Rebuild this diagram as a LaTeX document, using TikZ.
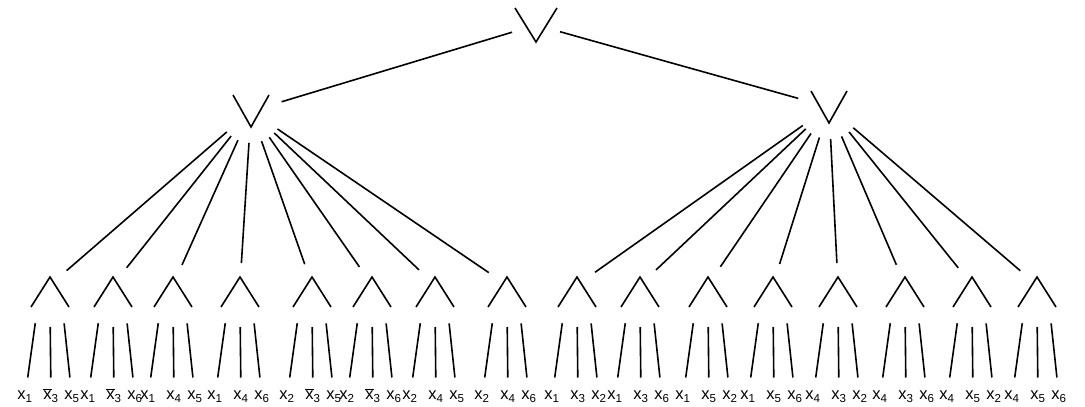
\documentclass[tikz,border=0pt]{standalone}
\usepackage{fontspec}
\setsansfont{Liberation Sans}
\newcommand\vx[1]{x\textsubscript{#1}}
\newcommand\nx[1]{$\overline{\mbox{x}}$\textsubscript{#1}}
\begin{document}
\begin{tikzpicture}[x=1pt, y=-1pt, line width=1.6pt,
  gate/.style={circle, inner sep=0pt, outer sep=0pt, minimum size=64pt},
  orgate/.style n args={2}{gate, path picture={
    \draw ([shift={(-#1,-#2)}]path picture bounding box.center)
      -- ([shift={(0,#2)}]path picture bounding box.center)
      -- ([shift={(#1,-#2)}]path picture bounding box.center);}},
  andgate/.style={gate, outer sep=-10pt, path picture={
    \draw ([shift={(-19,22)}]path picture bounding box.center)
      -- ([shift={(0,-8)}]path picture bounding box.center)
      -- ([shift={(19,22)}]path picture bounding box.center);}},
  var/.style={font=\sffamily\fontsize{16.5}{16.5}\selectfont, inner sep=0pt,
    text height=9pt, text depth=4pt, outer sep=13pt}]
  \useasboundingbox (0,0) rectangle (1085,407);
  \node[orgate={21}{17}, minimum size=60pt, outer sep=-5pt] (top) at (536,25) {};
  \node[orgate={18}{16}] (left) at (251,111) {};
  \node[orgate={18}{16}] (right) at (829,107) {};
  \draw (top) -- (left);
  \draw (top) -- (right);
  \foreach \x/\p/\q/\r [count=\i] in {50/\vx1/\nx3/\vx5, 113/\vx1/\nx3/\vx6,
      173/\vx1/\vx4/\vx5, 240/\vx1/\vx4/\vx6, 312/\vx2/\nx3/\vx5, 372/\vx2/\nx3/\vx6,
      435/\vx2/\vx4/\vx5, 507/\vx2/\vx4/\vx6, 577/\vx1/\vx3/\vx2, 640/\vx1/\vx3/\vx6,
      708/\vx1/\vx5/\vx2, 773/\vx1/\vx5/\vx6, 838/\vx4/\vx3/\vx2, 905/\vx4/\vx3/\vx6,
      972/\vx4/\vx5/\vx2, 1037/\vx4/\vx5/\vx6} {
    \node[var] (in\i-1) at (\x-25,397) {\p};
    \node[var] (in\i-2) at (\x+1,397) {\q};
    \node[var] (in\i-3) at (\x+22,397) {\r};
    \node[andgate] (and\i) at (\x,285) {};
    \draw[shorten <=20pt] (and\i.237) -- (in\i-1);
    \draw[shorten <=20pt] (and\i.270) -- (in\i-2);
    \draw[shorten <=20pt] (and\i.303) -- (in\i-3);
  }
  \foreach \i in {1,...,8} \draw (left) -- (and\i);
  \foreach \i in {9,...,16} \draw (right) -- (and\i);
\end{tikzpicture}
\end{document}
